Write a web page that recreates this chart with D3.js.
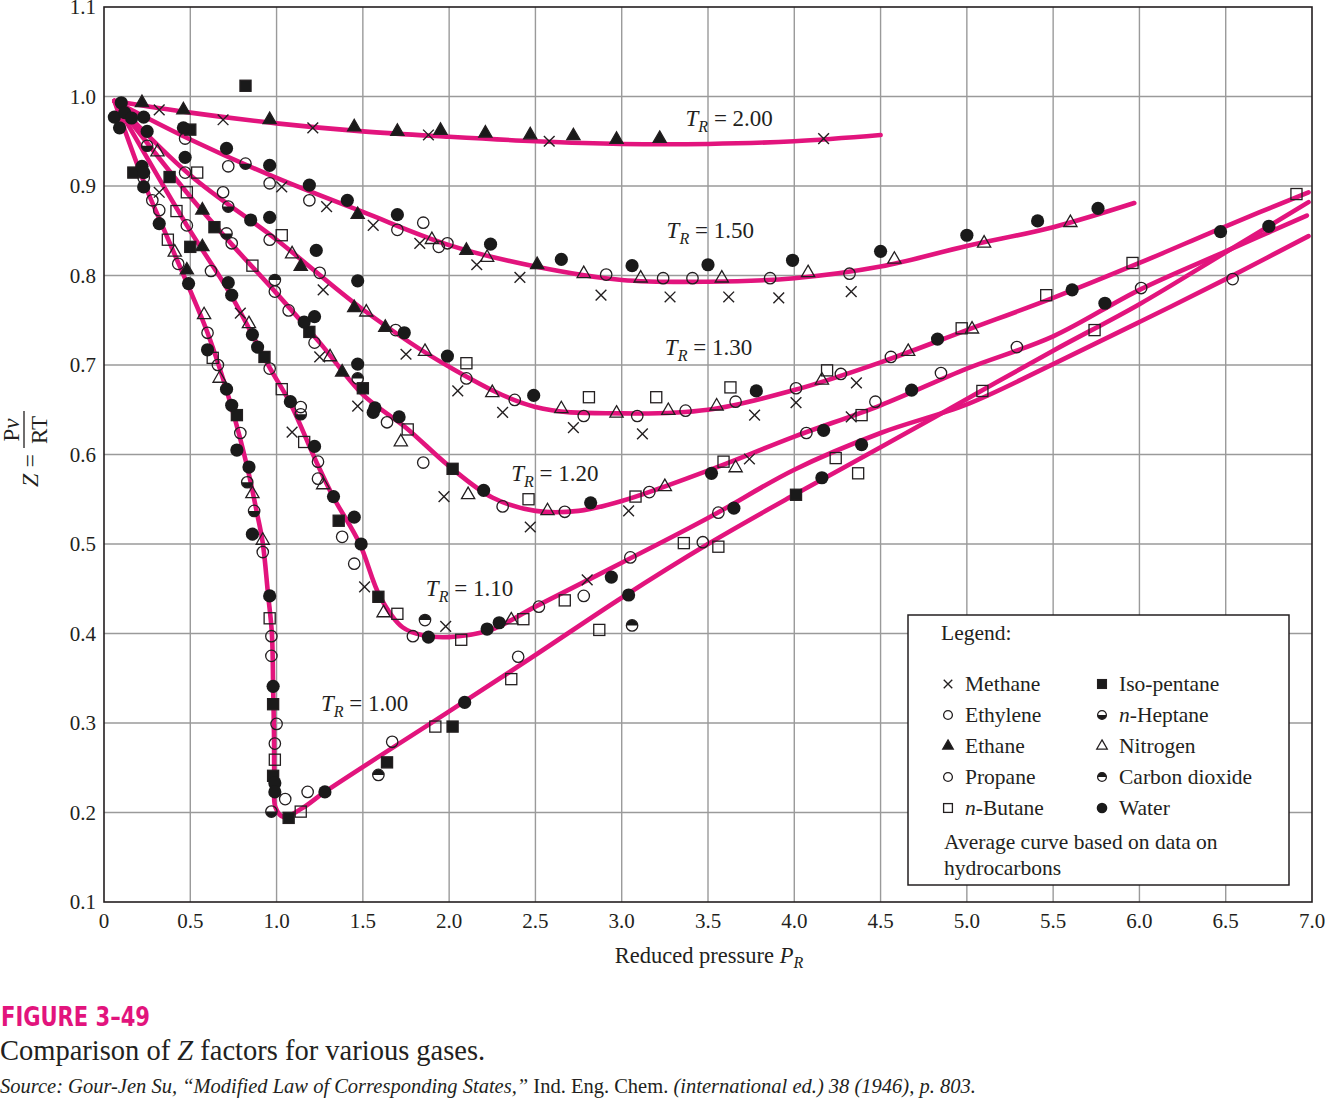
<!DOCTYPE html>
<html>
<head>
<meta charset="utf-8">
<script src="https://cdn.jsdelivr.net/npm/d3@7"></script>
<style>
  body { margin: 0; background: #fff; }
  text { font-family: "Liberation Serif", "Times New Roman", serif; fill: #231f20; }
</style>
</head>
<body>
<div id="chart"></div>
<script>

/* axis ticks */
var xTicks = [0, 0.5, 1.0, 1.5, 2.0, 2.5, 3.0, 3.5, 4.0, 4.5, 5.0, 5.5, 6.0, 6.5, 7.0];
var xTickLabels = ["0", "0.5", "1.0", "1.5", "2.0", "2.5", "3.0", "3.5", "4.0", "4.5", "5.0", "5.5", "6.0", "6.5", "7.0"];
var yTicks = [0.1, 0.2, 0.3, 0.4, 0.5, 0.6, 0.7, 0.8, 0.9, 1.0, 1.1];
var yTickLabels = ["0.1", "0.2", "0.3", "0.4", "0.5", "0.6", "0.7", "0.8", "0.9", "1.0", "1.1"];

/* average curves, [P_R, Z] */
var tr200 = [[0.06,0.995],[0.5,0.982],[1.0,0.970],[1.5,0.961],[2.0,0.955],[2.5,0.950],[3.0,0.947],[3.5,0.947],[4.0,0.950],[4.5,0.957]];
var tr150 = [[0.06,0.995],[0.5,0.952],[1.0,0.909],[1.5,0.871],[2.0,0.834],[2.5,0.810],[3.0,0.795],[3.5,0.793],[4.0,0.797],[4.5,0.810],[5.0,0.833],[5.5,0.854],[5.97,0.881]];
var tr130 = [[0.06,0.995],[0.5,0.912],[1.0,0.840],[1.5,0.762],[2.0,0.698],[2.5,0.653],[3.0,0.646],[3.5,0.650],[4.0,0.672],[4.5,0.703],[5.0,0.739],[5.5,0.775],[6.0,0.814],[6.5,0.855],[6.98,0.893]];
var tr120 = [[0.06,0.995],[0.5,0.888],[0.73,0.837],[1.0,0.780],[1.25,0.725],[1.5,0.667],[1.75,0.630],[2.0,0.587],[2.25,0.552],[2.5,0.537],[2.75,0.537],[3.0,0.548],[3.5,0.582],[4.0,0.620],[4.5,0.655],[5.0,0.696],[5.5,0.732],[6.0,0.784],[6.5,0.827],[6.97,0.867]];
var tr110 = [[0.06,0.995],[0.48,0.856],[0.73,0.780],[0.96,0.697],[1.08,0.657],[1.23,0.592],[1.33,0.552],[1.48,0.501],[1.6,0.441],[1.73,0.407],[1.85,0.398],[2.0,0.396],[2.24,0.404],[2.5,0.430],[3.0,0.479],[3.5,0.529],[4.0,0.583],[4.5,0.624],[5.0,0.656],[5.5,0.701],[6.0,0.748],[6.5,0.796],[6.98,0.844]];
var tr100 = [[0.06,0.995],[0.24,0.900],[0.33,0.859],[0.48,0.792],[0.60,0.736],[0.73,0.659],[0.83,0.586],[0.886,0.535],[0.92,0.501],[0.95,0.445],[0.973,0.400],[0.98,0.340],[0.985,0.289],[0.987,0.233],[0.993,0.206],[1.04,0.195],[1.15,0.205],[1.28,0.223],[2.0,0.313],[2.5,0.376],[3.0,0.440],[3.5,0.500],[4.0,0.555],[4.5,0.608],[5.0,0.662],[5.5,0.716],[6.0,0.768],[6.5,0.826],[6.98,0.882]];

var curveNames = ["2.00", "1.50", "1.30", "1.20", "1.10", "1.00"];
var labelP = [3.37, 3.26, 3.25, 2.36, 1.865, 1.257];
var labelZ = [0.967, 0.842, 0.711, 0.570, 0.442, 0.313];

/* data points, [P_R, Z] */
var methane = [[0.32,0.985],[0.69,0.974],[1.21,0.965],[1.88,0.957],[2.58,0.950],[4.17,0.953],[1.03,0.899],[1.29,0.877],[1.56,0.856],[1.83,0.836],[2.16,0.812],[2.41,0.798],[2.88,0.778],[3.28,0.776],[3.62,0.776],[3.91,0.775],[4.33,0.782],[0.32,0.893],[1.27,0.784],[1.75,0.712],[0.79,0.758],[1.25,0.709],[1.47,0.654],[1.09,0.625],[1.51,0.452],[1.98,0.408],[1.97,0.553],[2.05,0.671],[2.31,0.647],[2.72,0.630],[3.12,0.623],[3.77,0.644],[4.01,0.658],[4.36,0.680],[2.47,0.519],[3.04,0.537],[3.74,0.595],[4.33,0.642],[2.80,0.460]];
var ethylene = [[0.47,0.953],[0.72,0.922],[0.96,0.903],[1.19,0.884],[1.70,0.851],[1.85,0.859],[1.94,0.832],[1.99,0.836],[2.91,0.801],[3.24,0.797],[3.41,0.797],[3.86,0.797],[4.32,0.802],[0.23,0.909],[0.28,0.884],[0.47,0.915],[0.69,0.893],[0.96,0.840],[0.74,0.836],[1.25,0.803],[0.99,0.782],[1.07,0.761],[1.69,0.739],[1.22,0.725],[2.10,0.685],[2.38,0.661],[2.78,0.643],[3.09,0.643],[3.37,0.649],[3.66,0.659],[4.01,0.674],[4.27,0.690],[4.56,0.709]];
var propane = [[0.32,0.873],[0.48,0.856],[0.43,0.813],[0.62,0.805],[0.60,0.736],[0.66,0.700],[0.96,0.696],[1.14,0.653],[0.79,0.624],[0.92,0.491],[0.97,0.397],[0.97,0.375],[1.00,0.299],[0.99,0.277],[1.05,0.215],[1.18,0.223],[1.67,0.279],[1.24,0.592],[1.24,0.573],[1.38,0.508],[1.45,0.478],[1.79,0.397],[1.64,0.636],[1.85,0.591],[2.31,0.542],[2.67,0.536],[3.16,0.558],[4.07,0.624],[4.47,0.659],[4.85,0.691],[2.52,0.430],[2.78,0.442],[3.05,0.485],[3.47,0.502],[3.56,0.535],[2.40,0.374],[5.29,0.720],[6.01,0.786],[6.54,0.796]];
var ethane = [[0.22,0.993],[0.46,0.985],[0.96,0.974],[1.45,0.966],[1.70,0.961],[1.95,0.962],[2.21,0.959],[2.47,0.957],[2.72,0.956],[2.97,0.952],[3.22,0.953],[1.47,0.868],[2.10,0.828],[2.51,0.812],[0.57,0.873],[0.57,0.832],[0.48,0.806],[1.14,0.810],[1.45,0.764],[1.63,0.742],[1.38,0.692]];
var nButane = [[0.54,0.915],[0.48,0.893],[0.42,0.872],[1.03,0.845],[0.37,0.840],[0.86,0.811],[0.63,0.708],[1.03,0.673],[0.96,0.417],[0.99,0.259],[1.14,0.201],[1.92,0.296],[1.16,0.614],[1.70,0.422],[2.07,0.393],[1.76,0.628],[2.10,0.702],[2.81,0.664],[3.20,0.664],[3.63,0.675],[4.19,0.694],[4.97,0.741],[2.46,0.550],[3.08,0.553],[3.59,0.592],[4.39,0.644],[2.43,0.416],[2.67,0.437],[3.36,0.501],[3.56,0.497],[4.24,0.596],[4.37,0.579],[2.87,0.404],[2.36,0.349],[5.09,0.671],[5.46,0.778],[5.74,0.739],[5.96,0.814],[6.91,0.891]];
var isoPentane = [[0.82,1.012],[0.50,0.963],[0.17,0.915],[0.38,0.910],[0.64,0.854],[0.50,0.832],[0.93,0.709],[1.19,0.737],[1.50,0.674],[0.77,0.644],[0.98,0.321],[0.98,0.241],[1.07,0.194],[1.64,0.256],[2.02,0.296],[1.36,0.526],[1.59,0.441],[2.02,0.584],[4.01,0.555]];
var nHeptane = [[0.82,0.925],[0.25,0.945],[0.72,0.877],[0.71,0.847],[0.83,0.569],[0.87,0.537],[0.97,0.201],[1.14,0.645]];
var nitrogen = [[1.90,0.840],[2.22,0.820],[2.78,0.802],[3.11,0.797],[3.58,0.797],[4.08,0.803],[4.58,0.818],[5.10,0.836],[5.60,0.859],[0.31,0.938],[0.41,0.826],[1.09,0.824],[1.52,0.759],[1.86,0.715],[0.58,0.756],[0.67,0.685],[0.84,0.746],[1.31,0.709],[1.72,0.614],[2.11,0.555],[0.86,0.556],[0.92,0.504],[1.27,0.566],[1.62,0.423],[2.25,0.669],[2.65,0.651],[2.97,0.646],[3.27,0.649],[3.55,0.654],[4.16,0.683],[4.66,0.715],[5.03,0.740],[2.57,0.537],[3.25,0.564],[3.66,0.585],[2.36,0.415]];
var carbonDioxide = [[0.99,0.795],[1.47,0.685],[1.86,0.415],[1.59,0.242],[3.06,0.409]];
var water = [[0.10,0.993],[0.06,0.977],[0.09,0.965],[0.12,0.982],[0.16,0.976],[0.23,0.977],[0.25,0.961],[0.46,0.965],[0.71,0.942],[0.96,0.923],[1.19,0.901],[1.41,0.884],[1.70,0.868],[2.24,0.835],[2.65,0.818],[3.06,0.811],[3.50,0.812],[3.99,0.817],[4.50,0.827],[5.00,0.845],[5.41,0.861],[5.76,0.875],[0.22,0.922],[0.23,0.915],[0.23,0.899],[0.32,0.858],[0.47,0.932],[0.85,0.862],[0.96,0.865],[0.49,0.791],[1.23,0.828],[1.47,0.794],[1.74,0.736],[0.60,0.717],[0.71,0.673],[0.74,0.655],[0.72,0.792],[0.74,0.778],[0.86,0.734],[0.89,0.720],[1.08,0.659],[1.16,0.748],[1.22,0.754],[1.47,0.701],[1.57,0.652],[0.77,0.605],[0.84,0.586],[0.86,0.511],[0.96,0.442],[0.98,0.341],[0.99,0.233],[0.99,0.223],[1.28,0.223],[2.09,0.323],[1.22,0.609],[1.33,0.553],[1.45,0.530],[1.49,0.500],[1.88,0.396],[2.22,0.405],[1.56,0.647],[1.71,0.642],[2.20,0.560],[1.99,0.710],[2.49,0.666],[3.78,0.671],[4.83,0.729],[2.82,0.546],[3.52,0.579],[4.17,0.627],[4.68,0.672],[2.29,0.412],[2.94,0.463],[3.65,0.540],[4.39,0.611],[3.04,0.443],[4.16,0.574],[5.61,0.784],[5.80,0.769],[6.47,0.849],[6.75,0.855]];

var gasNames = ["Methane", "Ethylene", "Ethane", "Propane", "n-Butane", "Iso-pentane", "n-Heptane", "Nitrogen", "Carbon dioxide", "Water"];
var gasSymbols = ["times", "circle", "triangleFill", "circle", "square", "squareFill", "halfBottom", "triangle", "halfTop", "dot"];

render();

function render() {

    var W = 1325, H = 1100;
    var ink = "#231f20", pink = "#e2147d";

    var svg = d3.select("#chart").append("svg")
        .attr("width", W)
        .attr("height", H)
        .style("background", "#fff");

    var x = d3.scaleLinear().domain([0, 7]).range([104, 1312]);
    var y = d3.scaleLinear().domain([0.1, 1.1]).range([902, 7]);

    /* grid */
    var grid = svg.append("g").attr("stroke", "#9a9a9a").attr("stroke-width", 1.4);
    grid.selectAll(".vg").data(xTicks.slice(1, -1)).enter().append("line")
        .attr("x1", function (d) { return x(d); })
        .attr("x2", function (d) { return x(d); })
        .attr("y1", y(1.1)).attr("y2", y(0.1));
    grid.selectAll(".hg").data(yTicks.slice(1, -1)).enter().append("line")
        .attr("y1", function (d) { return y(d); })
        .attr("y2", function (d) { return y(d); })
        .attr("x1", x(0)).attr("x2", x(7));

    svg.append("rect")
        .attr("x", x(0)).attr("y", y(1.1))
        .attr("width", x(7) - x(0)).attr("height", y(0.1) - y(1.1))
        .attr("fill", "none").attr("stroke", ink).attr("stroke-width", 1.6);

    /* tick labels */
    svg.selectAll(".xt").data(xTicks).enter().append("text")
        .attr("x", function (d) { return x(d); })
        .attr("y", y(0.1) + 26)
        .attr("text-anchor", "middle")
        .style("font-size", "21px")
        .text(function (d, i) { return xTickLabels[i]; });

    svg.selectAll(".yt").data(yTicks).enter().append("text")
        .attr("x", x(0) - 8)
        .attr("y", function (d) { return y(d) + 7; })
        .attr("text-anchor", "end")
        .style("font-size", "21px")
        .text(function (d, i) { return yTickLabels[i]; });

    /* axis titles */
    var xt = svg.append("text")
        .attr("x", 709).attr("y", 963)
        .attr("text-anchor", "middle")
        .style("font-size", "22.5px");
    xt.append("tspan").text("Reduced pressure ");
    xt.append("tspan").style("font-style", "italic").text("P");
    xt.append("tspan").style("font-style", "italic").style("font-size", "16px").attr("dy", 5).text("R");

    var yt = svg.append("g").attr("transform", "translate(33,450) rotate(-90)");
    yt.append("text").attr("x", -4).attr("y", 5).attr("text-anchor", "end")
        .style("font-size", "24px")
        .html('<tspan font-style="italic">Z</tspan> =');
    yt.append("line").attr("x1", 2).attr("x2", 39).attr("y1", -9).attr("y2", -9)
        .attr("stroke", ink).attr("stroke-width", 1.3);
    yt.append("text").attr("x", 20).attr("y", -14).attr("text-anchor", "middle")
        .style("font-size", "23px")
        .html('P<tspan font-style="italic">v</tspan>');
    yt.append("text").attr("x", 20).attr("y", 14).attr("text-anchor", "middle")
        .style("font-size", "23px")
        .text("RT");

    /* average curves */
    var line = d3.line()
        .x(function (d) { return x(d[0]); })
        .y(function (d) { return y(d[1]); })
        .curve(d3.curveCatmullRom.alpha(0.5));

    var curves = [tr200, tr150, tr130, tr120, tr110, tr100];
    svg.append("g").selectAll("path").data(curves).enter().append("path")
        .attr("d", line)
        .attr("fill", "none")
        .attr("stroke", pink)
        .attr("stroke-width", 4.6)
        .attr("stroke-linecap", "round");

    /* curve labels */
    curveNames.forEach(function (name, i) {
        var t = svg.append("text")
            .attr("x", x(labelP[i])).attr("y", y(labelZ[i]))
            .style("font-size", "23px");
        t.append("tspan").style("font-style", "italic").text("T");
        t.append("tspan").style("font-style", "italic").style("font-size", "16px").attr("dy", 6).text("R");
        t.append("tspan").attr("dy", -6).text(" = " + name);
    });

    /* data points */
    var gases = [methane, ethylene, ethane, propane, nButane, isoPentane, nHeptane, nitrogen, carbonDioxide, water];
    var pts = svg.append("g");
    gases.forEach(function (data, i) {
        data.forEach(function (d) {
            var g = pts.append("g").attr("transform", "translate(" + x(d[0]) + "," + y(d[1]) + ")");
            drawSymbol(g, gasSymbols[i], 6.3);
        });
    });

    function drawSymbol(g, type, r) {
        var sw = 1.3;
        if (type === "times") {
            var s = r * 0.85;
            g.append("path").attr("d", "M" + (-s) + "," + (-s) + "L" + s + "," + s + "M" + s + "," + (-s) + "L" + (-s) + "," + s)
                .attr("stroke", ink).attr("stroke-width", 1.4).attr("fill", "none");
        } else if (type === "circle") {
            g.append("circle").attr("r", r - 0.6).attr("fill", "none").attr("stroke", ink).attr("stroke-width", sw);
        } else if (type === "dot") {
            g.append("circle").attr("r", r + 0.3).attr("fill", "#1a1a1a");
        } else if (type === "square" || type === "squareFill") {
            var h = r * 0.88;
            g.append("rect").attr("x", -h).attr("y", -h).attr("width", 2 * h).attr("height", 2 * h)
                .attr("fill", type === "squareFill" ? "#1a1a1a" : "none")
                .attr("stroke", ink).attr("stroke-width", sw);
        } else if (type === "triangle" || type === "triangleFill") {
            var a = r * 2.1;
            var p = [[0, -a * 0.577], [a / 2, a * 0.289], [-a / 2, a * 0.289]];
            g.append("path").attr("d", "M" + p.join("L") + "Z")
                .attr("fill", type === "triangleFill" ? "#1a1a1a" : "none")
                .attr("stroke", ink).attr("stroke-width", sw).attr("stroke-linejoin", "miter");
        } else if (type === "halfBottom" || type === "halfTop") {
            var rr = r - 0.6;
            var arc = d3.arc().innerRadius(0).outerRadius(rr);
            var st = type === "halfBottom" ? Math.PI / 2 : -Math.PI / 2;
            g.append("path").attr("d", arc({startAngle: st, endAngle: st + Math.PI})).attr("fill", "#1a1a1a");
            g.append("circle").attr("r", rr).attr("fill", "none").attr("stroke", ink).attr("stroke-width", sw);
        }
    }

    /* legend */
    var lg = svg.append("g");
    lg.append("rect").attr("x", 908).attr("y", 615).attr("width", 381).attr("height", 270)
        .attr("fill", "#fff").attr("stroke", ink).attr("stroke-width", 1.5);
    lg.append("text").attr("x", 941).attr("y", 640).style("font-size", "21.5px").text("Legend:");

    gasNames.forEach(function (name, i) {
        var col = i < 5 ? 0 : 1, row = i % 5;
        var cy = 684 + row * 31;
        var sx = col === 0 ? 948 : 1102;
        var g = lg.append("g").attr("transform", "translate(" + sx + "," + cy + ")");
        drawSymbol(g, gasSymbols[i], 5);
        var t = lg.append("text").attr("x", sx + 17).attr("y", cy + 7).style("font-size", "21.5px");
        if (name.indexOf("n-") === 0) {
            t.append("tspan").style("font-style", "italic").text("n");
            t.append("tspan").text(name.slice(1));
        } else {
            t.text(name);
        }
    });
    lg.append("text").attr("x", 944).attr("y", 849).style("font-size", "21.5px").text("Average curve based on data on");
    lg.append("text").attr("x", 944).attr("y", 875).style("font-size", "21.5px").text("hydrocarbons");

    /* caption */
    svg.append("text").attr("x", 1).attr("y", 1026)
        .attr("textLength", 149).attr("lengthAdjust", "spacingAndGlyphs")
        .style("font-family", "'Liberation Sans Narrow', 'DejaVu Sans Condensed', sans-serif")
        .style("font-weight", "bold").style("font-size", "27px").style("fill", pink)
        .text("FIGURE 3\u201349");

    var c1 = svg.append("text").attr("x", 0).attr("y", 1060).style("font-size", "28.5px");
    c1.append("tspan").text("Comparison of ");
    c1.append("tspan").style("font-style", "italic").text("Z");
    c1.append("tspan").text(" factors for various gases.");

    var c2 = svg.append("text").attr("x", 0).attr("y", 1093).style("font-size", "20.5px");
    c2.append("tspan").style("font-style", "italic").text("Source: Gour-Jen Su, \u201cModified Law of Corresponding States,\u201d");
    c2.append("tspan").text(" Ind. Eng. Chem. ");
    c2.append("tspan").style("font-style", "italic").text("(international ed.) 38 (1946), p. 803.");
}

</script>
</body>
</html>
